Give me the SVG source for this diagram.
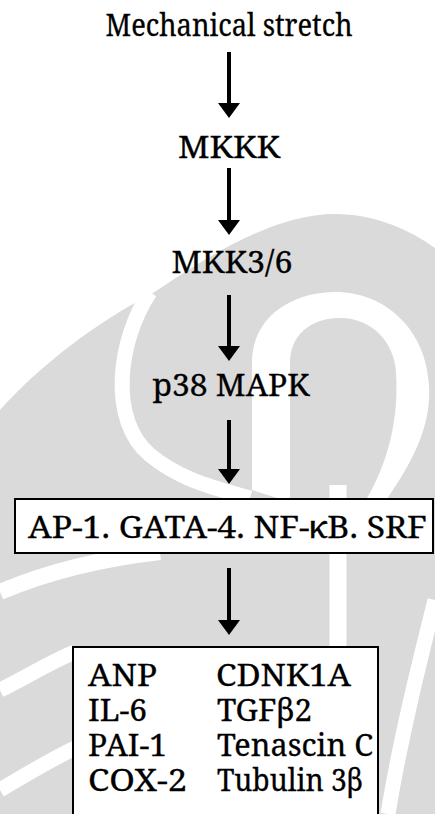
<svg xmlns="http://www.w3.org/2000/svg" width="435" height="814" viewBox="0 0 435 814">
  <defs>
    <marker id="head" markerUnits="userSpaceOnUse" markerWidth="15" markerHeight="22" refX="7" refY="11" orient="auto">
      <path d="M0,0 L15,11 L0,22 Z" fill="#000"/>
    </marker>
    <style>
      .lbl { font-family: 'Noto Serif', 'DejaVu Serif', serif; font-size: 31px; fill: #000; stroke: #000; stroke-width: 0.3px; }
      .mid { text-anchor: middle; }
      .box { fill: #fff; stroke: #000; stroke-width: 2; }
      .link { stroke: #000; stroke-width: 4; fill: none; marker-end: url(#head); }
      .mark { fill: #dadada; }
      .gap { fill: none; stroke: #fff; }
    </style>
  </defs>

  <rect width="435" height="814" fill="#fff"/>

  <!-- faint emblem in the background -->
  <g id="watermark">
    <path class="mark" d="M0,410 C40,365 100,320 150,295 C200,262 270,214 335,214 C375,214 410,230 435,248 L435,814 L0,814 Z"/>
    <path class="gap" stroke-width="15" d="M150,292 C118,340 108,420 150,455 C180,480 215,488 250,498"/>
    <path fill="#fff" d="M252,490 L252,360 C254,312 298,292 335,292 C386,292 426,330 429,385 C432,430 408,468 383,505 L300,505 Z"/>
    <path class="mark" d="M290,500 L290,362 C290,336 310,318 340,318 C372,318 394,342 396,372 C399,420 388,462 366,500 Z"/>
    <path class="gap" stroke-width="16" d="M0,592 C40,575 90,560 160,552"/>
    <path class="gap" stroke-width="15" d="M0,690 C25,678 50,662 75,652"/>
    <path class="gap" stroke-width="15" d="M0,790 C25,775 50,760 75,748"/>
    <path class="gap" stroke-width="17" d="M338,485 L338,662"/>
    <path class="gap" stroke-width="15" d="M435,600 C420,660 400,740 388,814"/>
  </g>

  <g id="connectors">
    <line class="link" x1="229" y1="52" x2="229" y2="110"/>
    <line class="link" x1="229" y1="168" x2="229" y2="227"/>
    <line class="link" x1="229" y1="295" x2="229" y2="353"/>
    <line class="link" x1="229" y1="420" x2="229" y2="476"/>
    <line class="link" x1="229" y1="568" x2="229" y2="627"/>
  </g>

  <g id="stretch">
    <text class="lbl mid" x="229" y="36" textLength="247" lengthAdjust="spacingAndGlyphs">Mechanical stretch</text>
  </g>
  <g id="mkkk">
    <text class="lbl mid" x="229" y="158" textLength="102" lengthAdjust="spacingAndGlyphs">MKKK</text>
  </g>
  <g id="mkk36">
    <text class="lbl mid" x="232" y="273" textLength="121" lengthAdjust="spacingAndGlyphs">MKK3/6</text>
  </g>
  <g id="p38">
    <text class="lbl mid" x="231" y="396" textLength="157" lengthAdjust="spacingAndGlyphs">p38 MAPK</text>
  </g>
  <g id="factors">
    <rect class="box" x="15" y="499" width="418" height="54"/>
    <text class="lbl" x="28" y="538" textLength="399" lengthAdjust="spacingAndGlyphs">AP-1. GATA-4. NF-κB. SRF</text>
  </g>
  <g id="genes">
    <rect class="box" x="73" y="647" width="305" height="185"/>
    <text class="lbl" x="88" y="686" textLength="69" lengthAdjust="spacingAndGlyphs">ANP</text>
    <text class="lbl" x="88" y="721" textLength="59" lengthAdjust="spacingAndGlyphs">IL-6</text>
    <text class="lbl" x="88" y="756" textLength="79" lengthAdjust="spacingAndGlyphs">PAI-1</text>
    <text class="lbl" x="88" y="791" textLength="99" lengthAdjust="spacingAndGlyphs">COX-2</text>
    <text class="lbl" x="216" y="686" textLength="135" lengthAdjust="spacingAndGlyphs">CDNK1A</text>
    <text class="lbl" x="217" y="721" textLength="95" lengthAdjust="spacingAndGlyphs">TGFβ2</text>
    <text class="lbl" x="217" y="756" textLength="156" lengthAdjust="spacingAndGlyphs">Tenascin C</text>
    <text class="lbl" x="217" y="791" textLength="146" lengthAdjust="spacingAndGlyphs">Tubulin 3β</text>
  </g>
</svg>
